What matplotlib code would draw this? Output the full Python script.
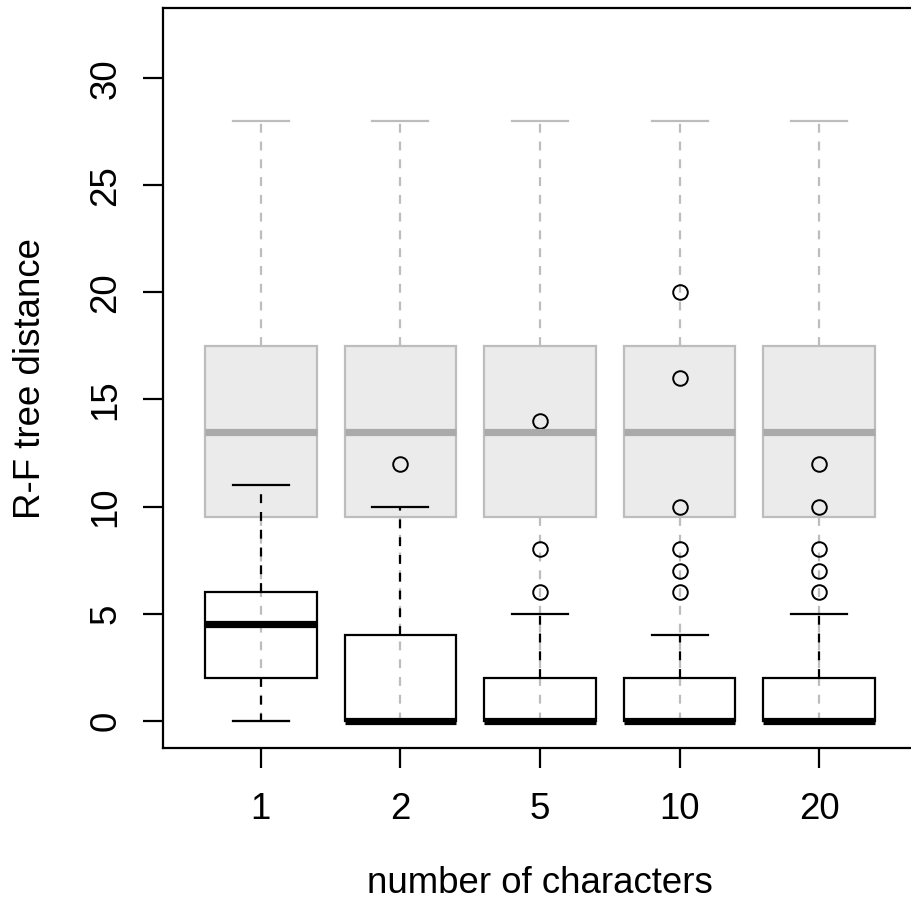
import numpy as np
import matplotlib.pyplot as plt

plt.rcParams['font.family'] = ['Liberation Sans', 'DejaVu Sans']

# categories on the x axis
cats = ['1', '2', '5', '10', '20']

# grey (background) boxplot stats, same for every group
grey_lo = [0, 0, 0, 0, 0]
grey_q1 = [9.5, 9.5, 9.5, 9.5, 9.5]
grey_med = [13.5, 13.5, 13.5, 13.5, 13.5]
grey_q3 = [17.5, 17.5, 17.5, 17.5, 17.5]
grey_hi = [28, 28, 28, 28, 28]

# black (foreground) boxplot stats
blk_lo = [0, 0, 0, 0, 0]
blk_q1 = [2, 0, 0, 0, 0]
blk_med = [4.5, 0, 0, 0, 0]
blk_q3 = [6, 4, 2, 2, 2]
blk_hi = [11, 10, 5, 4, 5]
blk_out = [[], [12], [6, 8, 14], [6, 7, 8, 10, 16, 20], [6, 7, 8, 10, 12]]


def make_stats(lo, q1, med, q3, hi, out=None):
    stats = []
    for i in range(len(lo)):
        stats.append({'whislo': lo[i], 'q1': q1[i], 'med': med[i], 'q3': q3[i],
                      'whishi': hi[i], 'fliers': out[i] if out else []})
    return stats


fig = plt.figure(figsize=(9.12, 9.02), dpi=100)
ax = fig.add_axes([0.1787, 0.1707, 0.8268, 0.8204])
pos = np.arange(1, len(cats) + 1)
lw = 1.6
dash = (0, (4, 4))

# grey boxes first
ax.bxp(make_stats(grey_lo, grey_q1, grey_med, grey_q3, grey_hi), positions=pos,
       widths=0.8, capwidths=0.4, patch_artist=True, showfliers=False,
       boxprops=dict(facecolor='#ebebeb', edgecolor='#bdbdbd', linewidth=lw),
       medianprops=dict(color='#aaaaaa', linewidth=5.2, solid_capstyle='butt'),
       whiskerprops=dict(color='#bdbdbd', linewidth=lw, linestyle=dash),
       capprops=dict(color='#bdbdbd', linewidth=lw))

# black boxes on top, no fill
ax.bxp(make_stats(blk_lo, blk_q1, blk_med, blk_q3, blk_hi, blk_out), positions=pos,
       widths=0.8, capwidths=0.4, patch_artist=True,
       boxprops=dict(facecolor='none', edgecolor='black', linewidth=lw),
       medianprops=dict(color='black', linewidth=5.2, solid_capstyle='butt'),
       whiskerprops=dict(color='black', linewidth=lw, linestyle=dash),
       capprops=dict(color='black', linewidth=lw),
       flierprops=dict(marker='o', markerfacecolor='none', markeredgecolor='black',
                       markersize=10.5, markeredgewidth=1.4, linestyle='none'))

ax.set_xlim(0.3, 5.7)
ax.set_ylim(-1.28, 33.28)
ax.set_xticks(pos)
ax.set_xticklabels(cats)
ax.set_yticks([0, 5, 10, 15, 20, 25, 30])
ax.tick_params(length=14.4, width=lw, labelsize=26.4)
ax.tick_params(axis='x', pad=17)
ax.tick_params(axis='y', pad=14)
plt.setp(ax.get_yticklabels(), rotation=90, va='center')
for s in ax.spines.values():
    s.set_linewidth(lw)

ax.set_xlabel('number of characters', fontsize=26.4, labelpad=28)
ax.set_ylabel('R-F tree distance', fontsize=26.4, labelpad=29)

fig.savefig('out.png', dpi=100)
